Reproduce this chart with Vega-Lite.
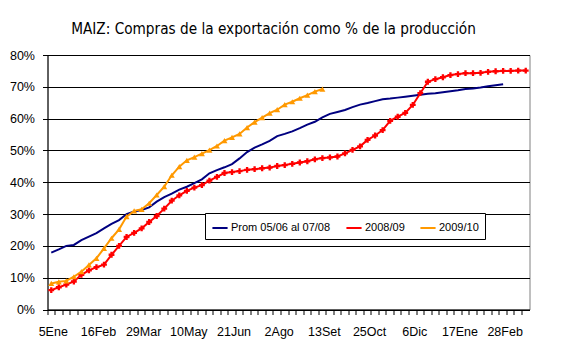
{
  "$schema": "https://vega.github.io/schema/vega-lite/v6.json",
  "width": 482,
  "height": 254.5,
  "autosize": {"type": "none"},
  "padding": {"left": 47.5, "top": 55, "right": 32.5, "bottom": 51.5},
  "background": "white",
  "config": {
    "view": {"stroke": "#808080", "strokeWidth": 1},
    "font": "Liberation Sans"
  },
  "title": {
    "text": "MAIZ: Compras de la exportación como % de la producción",
    "font": "DejaVu Sans Condensed, sans-serif",
    "fontSize": 15.2,
    "fontWeight": "normal",
    "color": "#000",
    "anchor": "middle",
    "frame": "group",
    "baseline": "alphabetic",
    "offset": 0,
    "dx": -15
  },
  "data": {
    "values": [
      {"fecha": "2008-01-05", "Prom 05/06 al 07/08": 17.9, "2008/09": 6.1, "2009/10": 8.2},
      {"fecha": "2008-01-12", "Prom 05/06 al 07/08": 18.9, "2008/09": 7.0, "2009/10": 8.7},
      {"fecha": "2008-01-19", "Prom 05/06 al 07/08": 20.0, "2008/09": 7.8, "2009/10": 9.0},
      {"fecha": "2008-01-26", "Prom 05/06 al 07/08": 20.3, "2008/09": 8.8, "2009/10": 10.3},
      {"fecha": "2008-02-02", "Prom 05/06 al 07/08": 21.8, "2008/09": 10.9, "2009/10": 11.9},
      {"fecha": "2008-02-09", "Prom 05/06 al 07/08": 22.9, "2008/09": 12.3, "2009/10": 14.0},
      {"fecha": "2008-02-16", "Prom 05/06 al 07/08": 24.0, "2008/09": 13.3, "2009/10": 16.1},
      {"fecha": "2008-02-23", "Prom 05/06 al 07/08": 25.5, "2008/09": 14.1, "2009/10": 19.2},
      {"fecha": "2008-03-01", "Prom 05/06 al 07/08": 26.9, "2008/09": 17.2, "2009/10": 22.4},
      {"fecha": "2008-03-08", "Prom 05/06 al 07/08": 28.1, "2008/09": 20.0, "2009/10": 25.2},
      {"fecha": "2008-03-15", "Prom 05/06 al 07/08": 30.0, "2008/09": 22.8, "2009/10": 29.2},
      {"fecha": "2008-03-22", "Prom 05/06 al 07/08": 30.8, "2008/09": 24.1, "2009/10": 31.0},
      {"fecha": "2008-03-29", "Prom 05/06 al 07/08": 31.3, "2008/09": 25.5, "2009/10": 31.5},
      {"fecha": "2008-04-05", "Prom 05/06 al 07/08": 32.1, "2008/09": 27.5, "2009/10": 33.4},
      {"fecha": "2008-04-12", "Prom 05/06 al 07/08": 33.9, "2008/09": 29.4, "2009/10": 36.0},
      {"fecha": "2008-04-19", "Prom 05/06 al 07/08": 35.3, "2008/09": 31.7, "2009/10": 38.6},
      {"fecha": "2008-04-26", "Prom 05/06 al 07/08": 36.4, "2008/09": 34.2, "2009/10": 42.2},
      {"fecha": "2008-05-03", "Prom 05/06 al 07/08": 37.7, "2008/09": 35.9, "2009/10": 44.9},
      {"fecha": "2008-05-10", "Prom 05/06 al 07/08": 38.6, "2008/09": 37.3, "2009/10": 46.9},
      {"fecha": "2008-05-17", "Prom 05/06 al 07/08": 39.7, "2008/09": 38.3, "2009/10": 47.9},
      {"fecha": "2008-05-24", "Prom 05/06 al 07/08": 40.9, "2008/09": 39.1, "2009/10": 49.0},
      {"fecha": "2008-05-31", "Prom 05/06 al 07/08": 42.8, "2008/09": 40.5, "2009/10": 50.1},
      {"fecha": "2008-06-07", "Prom 05/06 al 07/08": 43.8, "2008/09": 41.7, "2009/10": 51.4},
      {"fecha": "2008-06-14", "Prom 05/06 al 07/08": 44.7, "2008/09": 42.9, "2009/10": 53.1},
      {"fecha": "2008-06-21", "Prom 05/06 al 07/08": 45.7, "2008/09": 43.2, "2009/10": 54.1},
      {"fecha": "2008-06-28", "Prom 05/06 al 07/08": 47.5, "2008/09": 43.5, "2009/10": 55.2},
      {"fecha": "2008-07-05", "Prom 05/06 al 07/08": 49.5, "2008/09": 43.9, "2009/10": 57.2},
      {"fecha": "2008-07-12", "Prom 05/06 al 07/08": 50.9, "2008/09": 44.1, "2009/10": 58.9},
      {"fecha": "2008-07-19", "Prom 05/06 al 07/08": 51.9, "2008/09": 44.4, "2009/10": 60.3},
      {"fecha": "2008-07-26", "Prom 05/06 al 07/08": 53.0, "2008/09": 44.6, "2009/10": 61.7},
      {"fecha": "2008-08-02", "Prom 05/06 al 07/08": 54.5, "2008/09": 45.1, "2009/10": 62.8},
      {"fecha": "2008-08-09", "Prom 05/06 al 07/08": 55.2, "2008/09": 45.4, "2009/10": 64.4},
      {"fecha": "2008-08-16", "Prom 05/06 al 07/08": 56.0, "2008/09": 45.8, "2009/10": 65.3},
      {"fecha": "2008-08-23", "Prom 05/06 al 07/08": 57.0, "2008/09": 46.2, "2009/10": 66.4},
      {"fecha": "2008-08-30", "Prom 05/06 al 07/08": 58.1, "2008/09": 46.6, "2009/10": 67.4},
      {"fecha": "2008-09-06", "Prom 05/06 al 07/08": 59.0, "2008/09": 47.2, "2009/10": 68.5},
      {"fecha": "2008-09-13", "Prom 05/06 al 07/08": 60.4, "2008/09": 47.6, "2009/10": 69.3},
      {"fecha": "2008-09-20", "Prom 05/06 al 07/08": 61.5, "2008/09": 47.8},
      {"fecha": "2008-09-27", "Prom 05/06 al 07/08": 62.1, "2008/09": 48.1},
      {"fecha": "2008-10-04", "Prom 05/06 al 07/08": 62.7, "2008/09": 49.1},
      {"fecha": "2008-10-11", "Prom 05/06 al 07/08": 63.6, "2008/09": 50.2},
      {"fecha": "2008-10-18", "Prom 05/06 al 07/08": 64.4, "2008/09": 51.3},
      {"fecha": "2008-10-25", "Prom 05/06 al 07/08": 64.9, "2008/09": 53.3},
      {"fecha": "2008-11-01", "Prom 05/06 al 07/08": 65.5, "2008/09": 54.7},
      {"fecha": "2008-11-08", "Prom 05/06 al 07/08": 66.1, "2008/09": 56.4},
      {"fecha": "2008-11-15", "Prom 05/06 al 07/08": 66.3, "2008/09": 59.3},
      {"fecha": "2008-11-22", "Prom 05/06 al 07/08": 66.6, "2008/09": 60.6},
      {"fecha": "2008-11-29", "Prom 05/06 al 07/08": 66.9, "2008/09": 61.8},
      {"fecha": "2008-12-06", "Prom 05/06 al 07/08": 67.2, "2008/09": 64.3},
      {"fecha": "2008-12-13", "Prom 05/06 al 07/08": 67.5, "2008/09": 68.0},
      {"fecha": "2008-12-20", "Prom 05/06 al 07/08": 67.8, "2008/09": 71.6},
      {"fecha": "2008-12-27", "Prom 05/06 al 07/08": 68.0, "2008/09": 72.4},
      {"fecha": "2009-01-03", "Prom 05/06 al 07/08": 68.3, "2008/09": 73.0},
      {"fecha": "2009-01-10", "Prom 05/06 al 07/08": 68.6, "2008/09": 73.7},
      {"fecha": "2009-01-17", "Prom 05/06 al 07/08": 68.9, "2008/09": 74.0},
      {"fecha": "2009-01-24", "Prom 05/06 al 07/08": 69.3, "2008/09": 74.3},
      {"fecha": "2009-01-31", "Prom 05/06 al 07/08": 69.5, "2008/09": 74.3},
      {"fecha": "2009-02-07", "Prom 05/06 al 07/08": 69.8, "2008/09": 74.4},
      {"fecha": "2009-02-14", "Prom 05/06 al 07/08": 70.2, "2008/09": 74.7},
      {"fecha": "2009-02-21", "Prom 05/06 al 07/08": 70.5, "2008/09": 74.9},
      {"fecha": "2009-02-28", "Prom 05/06 al 07/08": 70.8, "2008/09": 75.0},
      {"fecha": "2009-03-07", "2008/09": 75.0},
      {"fecha": "2009-03-14", "2008/09": 75.1},
      {"fecha": "2009-03-21", "2008/09": 75.1}
    ]
  },
  "transform": [
    {"fold": ["Prom 05/06 al 07/08", "2008/09", "2009/10"], "as": ["serie", "pct"]},
    {"filter": "isValid(datum.pct)"}
  ],
  "encoding": {
    "x": {
      "field": "fecha",
      "type": "ordinal",
      "bandPosition": 0.5,
      "scale": {"type": "band", "paddingInner": 0, "paddingOuter": 0},
      "axis": {
        "title": null,
        "bandPosition": 0,
        "labelAngle": 0,
        "labelOverlap": false,
        "labelExpr": "(round((toDate(datum.value) - toDate('2008-01-05')) / 604800000) % 6 == 0) ? (utcdate(toDate(datum.value)) + ['Ene','Feb','Mar','Abr','May','Jun','Jul','Ago','Set','Oct','Nov','Dic'][utcmonth(toDate(datum.value))]) : ''",
        "labelOffset": 2,
        "labelFont": "Liberation Sans",
        "labelFontSize": 12.5,
        "labelColor": "#000",
        "labelPadding": 11,
        "tickColor": "#000",
        "tickSize": 5,
        "domainColor": "#000",
        "grid": false
      }
    },
    "y": {
      "field": "pct",
      "type": "quantitative",
      "scale": {"domain": [0, 80], "nice": false},
      "axis": {
        "title": null,
        "values": [0, 10, 20, 30, 40, 50, 60, 70, 80],
        "labelExpr": "datum.value + '%'",
        "labelFont": "Liberation Sans",
        "labelFontSize": 12.5,
        "labelColor": "#000",
        "labelPadding": 8,
        "tickColor": "#000",
        "tickSize": 5,
        "domainColor": "#000",
        "grid": true,
        "gridColor": "#000",
        "gridOpacity": 1,
        "gridWidth": 1
      }
    },
    "color": {
      "field": "serie",
      "type": "nominal",
      "scale": {
        "domain": ["Prom 05/06 al 07/08", "2008/09", "2009/10"],
        "range": ["#000080", "#FF0000", "#FF9900"]
      },
      "legend": {
        "title": null,
        "orient": "none",
        "legendX": 157.5,
        "legendY": 158,
        "direction": "horizontal",
        "symbolType": "stroke",
        "symbolStrokeWidth": 2,
        "symbolSize": 230,
        "labelFont": "Liberation Sans",
        "labelFontSize": 11,
        "labelColor": "#000",
        "labelOffset": 2,
        "columnPadding": 11,
        "padding": 6,
        "strokeColor": "#000",
        "fillColor": "#fff"
      }
    }
  },
  "layer": [
    {"mark": {"type": "line", "strokeWidth": 2}},
    {
      "transform": [{"filter": "datum.serie == '2008/09'"}],
      "mark": {"type": "point", "shape": "cross", "filled": true, "size": 34, "opacity": 1}
    },
    {
      "transform": [{"filter": "datum.serie == '2009/10'"}],
      "mark": {"type": "point", "shape": "triangle-up", "filled": true, "size": 36, "opacity": 1}
    }
  ]
}
